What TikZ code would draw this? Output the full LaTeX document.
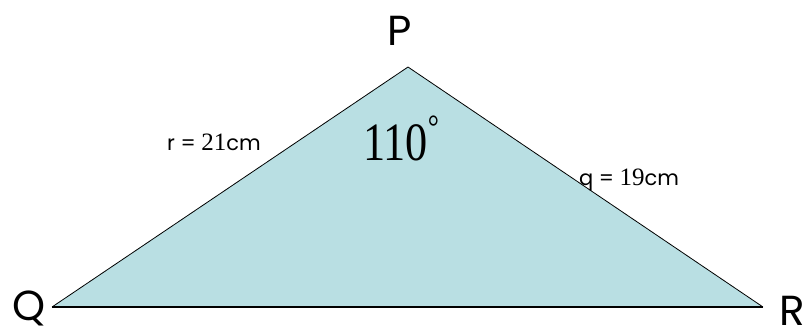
\documentclass[tikz,border=0pt]{standalone}
\usepackage{fontspec}
\setmainfont{Liberation Serif}
\setsansfont{Poppins}
\usetikzlibrary{positioning}
\definecolor{triFill}{HTML}{B9DFE3}
\tikzset{
  vlbl/.style={font=\sffamily\fontsize{42}{42}\selectfont, inner sep=0pt},
  side/.style={draw=black, line width=0.8pt},
  bottomside/.style={draw=black, line width=1.6pt},
  len/.style={font=\sffamily\fontsize{21}{21}\selectfont, inner sep=0pt},
  ang/.style={font=\rmfamily\fontsize{54}{54}\selectfont, inner sep=0pt, xscale=0.82},
}
\newcommand{\sidenum}[1]{{\rmfamily\fontsize{25}{25}\selectfont #1}}
\newcommand{\degmark}{{\fontsize{34}{34}\selectfont\raisebox{0.62em}{°}}}
\begin{document}
\begin{tikzpicture}[x=1pt,y=-1pt]
        \useasboundingbox (0,0) rectangle (806,333);
        \coordinate (P) at (408,67);
        \coordinate (Q) at (52,307);
        \coordinate (R) at (763,307);
        \fill[triFill] (P) -- (Q) -- (R) -- cycle;
        \draw[side] (Q) -- (P) -- (R);
        \draw[bottomside] (Q) -- (R);
        \node[vlbl,anchor=base] (lblP) at (400,45) {P};
        \node[vlbl,anchor=base] (lblQ) at (29,320) {Q};
        \node[vlbl,anchor=base west] (lblR) at (779,325) {R};
        \node[len,anchor=base] (lenR) at (214,150) {r = \sidenum{21}cm};
        \node[len,anchor=base] (lenQ) at (629,185) {q = \sidenum{19}cm};
        \node[ang,anchor=base west] (angP) at (363,160) {110\degmark};
      \end{tikzpicture}
\end{document}
